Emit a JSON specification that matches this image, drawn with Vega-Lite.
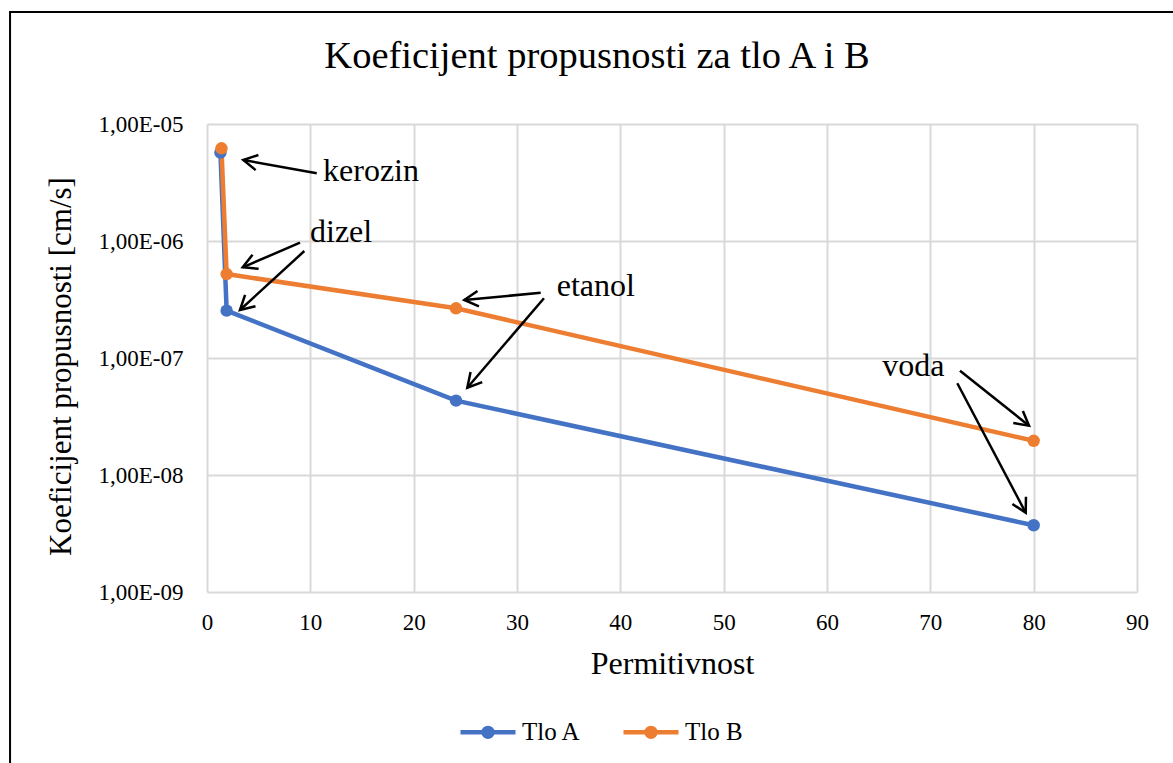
{
  "$schema": "https://vega.github.io/schema/vega-lite/v6.json",
  "width": 930,
  "height": 468,
  "autosize": {"type": "none"},
  "padding": {"left": 207, "top": 124, "right": 36, "bottom": 171},
  "background": "white",
  "config": {
    "view": {"stroke": null},
    "font": "Liberation Serif",
    "axis": {"labelFont": "Liberation Serif", "labelFontSize": 23, "labelColor": "#000000", "titleFont": "Liberation Serif"},
    "legend": {"labelFont": "Liberation Serif", "labelFontSize": 25, "labelColor": "#000000"},
    "text": {"font": "Liberation Serif"}
  },
  "title": {
    "text": "Koeficijent propusnosti za tlo A i B",
    "font": "Liberation Serif",
    "fontSize": 38.5,
    "fontWeight": "normal",
    "color": "#000000",
    "anchor": "middle",
    "frame": "group",
    "baseline": "alphabetic",
    "offset": -95,
    "dx": -75
  },
  "datasets": {
    "series": [
      {"tlo": "Tlo A", "tekucina": "kerozin", "x": 1.3, "y": 5.7e-6},
      {"tlo": "Tlo A", "tekucina": "dizel", "x": 1.9, "y": 2.54e-7},
      {"tlo": "Tlo A", "tekucina": "etanol", "x": 24.1, "y": 4.32e-8},
      {"tlo": "Tlo A", "tekucina": "voda", "x": 80, "y": 3.72e-9},
      {"tlo": "Tlo B", "tekucina": "kerozin", "x": 1.4, "y": 6.2e-6},
      {"tlo": "Tlo B", "tekucina": "dizel", "x": 1.9, "y": 5.22e-7},
      {"tlo": "Tlo B", "tekucina": "etanol", "x": 24.1, "y": 2.66e-7},
      {"tlo": "Tlo B", "tekucina": "voda", "x": 80, "y": 1.96e-8}
    ],
    "arrows": [
      {"label": "kerozin", "x": 3.51, "y": 4.92e-6, "x2": 10.62, "y2": 3.79e-6, "angle": 190.3},
      {"label": "dizel", "x": 3.455, "y": 5.96e-7, "x2": 9.0, "y2": 9.67e-7, "angle": 156.8},
      {"label": "dizel", "x": 3.19, "y": 2.57e-7, "x2": 9.42, "y2": 8.21e-7, "angle": 137.5},
      {"label": "etanol", "x": 24.9, "y": 3.13e-7, "x2": 32.29, "y2": 3.61e-7, "angle": 174.5},
      {"label": "etanol", "x": 25.19, "y": 5.57e-8, "x2": 32.61, "y2": 3.24e-7, "angle": 130.6},
      {"label": "voda", "x": 79.55, "y": 2.64e-8, "x2": 72.87, "y2": 7.79e-8, "angle": 38.6},
      {"label": "voda", "x": 79.23, "y": 4.76e-9, "x2": 72.61, "y2": 6.08e-8, "angle": 62.1}
    ],
    "labels": [
      {"label": "kerozin", "x": 11.23, "y": 3.26e-6},
      {"label": "dizel", "x": 9.97, "y": 9.86e-7},
      {"label": "etanol", "x": 33.84, "y": 3.39e-7},
      {"label": "voda", "x": 65.35, "y": 7.02e-8}
    ],
    "frame": [
      {"x": -19.06, "y": 9.05e-5, "x2": 200, "y2": 1e-14}
    ]
  },
  "encoding": {
    "x": {
      "field": "x",
      "type": "quantitative",
      "scale": {"domain": [0, 90], "nice": false, "zero": false},
      "axis": {
        "title": "Permitivnost",
        "values": [0, 10, 20, 30, 40, 50, 60, 70, 80, 90],
        "grid": true,
        "gridColor": "#d9d9d9",
        "gridWidth": 2,
        "domain": false,
        "ticks": false,
        "tickSize": 0,
        "labelFont": "Liberation Serif",
        "labelFontSize": 23,
        "labelColor": "#000000",
        "labelPadding": 37,
        "labelBaseline": "alphabetic",
        "labelFlush": false,
        "labelOverlap": false,
        "titleFont": "Liberation Serif",
        "titleFontSize": 32,
        "titleFontWeight": "normal",
        "titleColor": "#000000",
        "titleBaseline": "alphabetic",
        "titleX": 465,
        "titleY": 81
      }
    },
    "y": {
      "field": "y",
      "type": "quantitative",
      "scale": {"type": "log", "domain": [1e-9, 1e-5], "nice": false},
      "axis": {
        "title": "Koeficijent propusnosti [cm/s]",
        "values": [1e-9, 1e-8, 1e-7, 1e-6, 1e-5],
        "labelExpr": "'1,00E-0' + round(-log(datum.value)/LN10)",
        "grid": true,
        "gridColor": "#d9d9d9",
        "gridWidth": 2,
        "domain": false,
        "ticks": false,
        "tickSize": 0,
        "labelFont": "Liberation Serif",
        "labelFontSize": 23,
        "labelColor": "#000000",
        "labelPadding": 24,
        "labelOverlap": false,
        "titleFont": "Liberation Serif",
        "titleFontSize": 31,
        "titleFontWeight": "normal",
        "titleColor": "#000000",
        "titleBaseline": "alphabetic",
        "titleAngle": -90,
        "titleAlign": "center",
        "titleX": -137,
        "titleY": 242
      }
    }
  },
  "layer": [
    {
      "data": {"name": "frame"},
      "mark": {"type": "rect", "fillOpacity": 0, "stroke": "#000000", "strokeWidth": 2},
      "encoding": {
        "x2": {"field": "x2"},
        "y2": {"field": "y2"}
      }
    },
    {
      "data": {"name": "series"},
      "mark": {
        "type": "line",
        "strokeWidth": 4.5,
        "point": {"filled": true, "size": 155, "opacity": 1}
      },
      "encoding": {
        "color": {
          "field": "tlo",
          "type": "nominal",
          "scale": {"domain": ["Tlo A", "Tlo B"], "range": ["#4472C4", "#ED7D31"]},
          "legend": {
            "title": null,
            "orient": "none",
            "legendX": 251,
            "legendY": 578,
            "direction": "horizontal",
            "symbolType": "M-1,0L1,0M-0.16,0A0.16,0.16,0,1,1,0.16,0A0.16,0.16,0,1,1,-0.16,0Z",
            "symbolSize": 3025,
            "symbolStrokeWidth": 4.5,
            "labelFont": "Liberation Serif",
            "labelFontSize": 25,
            "labelColor": "#000000",
            "labelOffset": 4,
            "columnPadding": 32,
            "labelLimit": 0,
            "encode": {
              "symbols": {
                "update": {
                  "fill": {"scale": "color", "field": "value"},
                  "stroke": {"scale": "color", "field": "value"},
                  "fillOpacity": {"value": 1},
                  "strokeOpacity": {"value": 1}
                }
              }
            }
          }
        }
      }
    },
    {
      "data": {"name": "arrows"},
      "mark": {"type": "rule", "color": "#000000", "strokeWidth": 2.5},
      "encoding": {
        "x2": {"field": "x2"},
        "y2": {"field": "y2"}
      }
    },
    {
      "data": {"name": "arrows"},
      "mark": {
        "type": "point",
        "shape": "M-1,-0.55L0,0L-1,0.55",
        "filled": false,
        "stroke": "#000000",
        "strokeWidth": 2.5,
        "opacity": 1,
        "size": 784
      },
      "encoding": {
        "angle": {"field": "angle", "type": "quantitative", "scale": null}
      }
    },
    {
      "data": {"name": "labels"},
      "mark": {
        "type": "text",
        "align": "left",
        "baseline": "alphabetic",
        "font": "Liberation Serif",
        "fontSize": 32,
        "color": "#000000"
      },
      "encoding": {
        "text": {"field": "label"}
      }
    }
  ]
}
